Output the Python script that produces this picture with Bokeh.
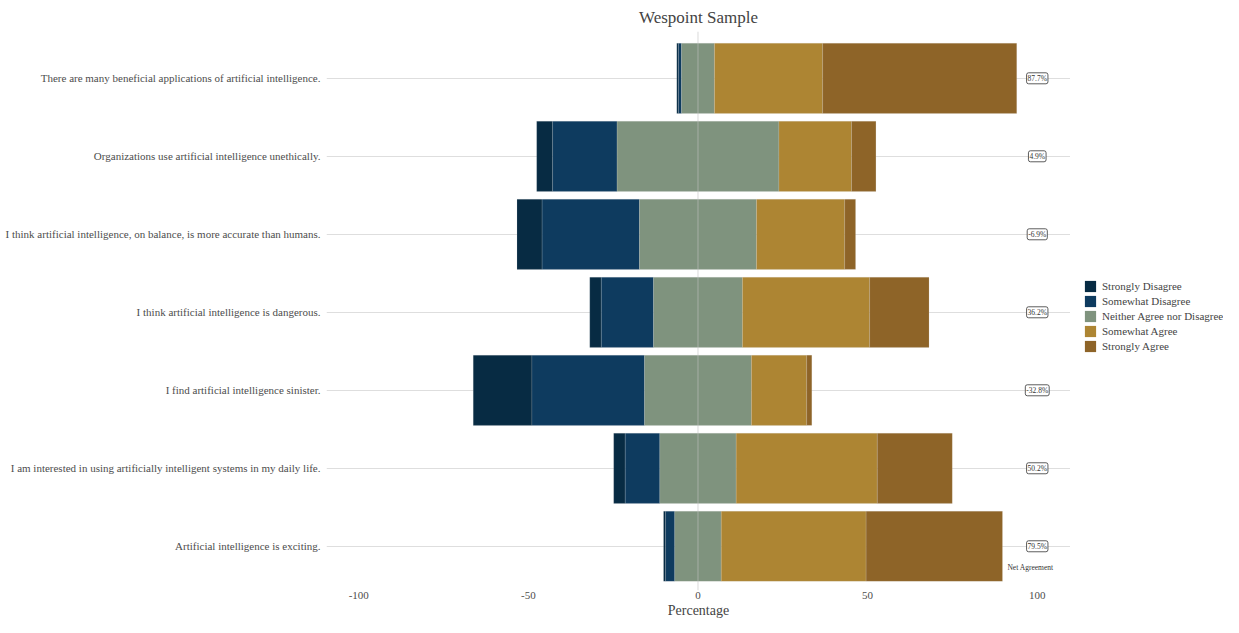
import numpy as np
from bokeh.plotting import figure
from bokeh.layouts import row
from bokeh.models import Range1d, FixedTicker, Span, Label, Legend, LegendItem, ColumnDataSource
from bokeh.embed import file_html
from bokeh.resources import INLINE

# ---- data (top row first) ----
questions = [
    "There are many beneficial applications of artificial intelligence.",
    "Organizations use artificial intelligence unethically.",
    "I think artificial intelligence, on balance, is more accurate than humans.",
    "I think artificial intelligence is dangerous.",
    "I find artificial intelligence sinister.",
    "I am interested in using artificially intelligent systems in my daily life.",
    "Artificial intelligence is exciting.",
]
categories = ["Strongly Disagree", "Somewhat Disagree", "Neither Agree nor Disagree",
              "Somewhat Agree", "Strongly Agree"]
strongly_disagree = [0.5, 4.7, 7.4, 3.4, 17.3, 3.4, 0.6]
somewhat_disagree = [0.9, 19.0, 28.7, 15.4, 33.2, 10.2, 2.7]
neither = [9.7, 47.7, 34.5, 26.2, 31.5, 22.5, 13.7]
somewhat_agree = [31.9, 21.4, 26.0, 37.5, 16.3, 41.6, 42.7]
strongly_agree = [57.2, 7.2, 3.2, 17.5, 1.5, 22.1, 40.2]
net_agreement = ["87.7%", "4.9%", "-6.9%", "36.2%", "-32.8%", "50.2%", "79.5%"]
x_ticks = [-100, -50, 0, 50, 100]

colors = ["#072b43", "#0e3b5f", "#7f937e", "#ad8533", "#8e6428"]
FONT = "Liberation Serif"

series = [strongly_disagree, somewhat_disagree, neither, somewhat_agree, strongly_agree]
n = len(questions)
ypos = list(range(n, 0, -1))

# stacked segment bounds (neutral centred on zero)
left0 = [-(sd + swd + ne / 2) for sd, swd, ne in zip(strongly_disagree, somewhat_disagree, neither)]
bounds = []
cur = list(left0)
for vals in series:
    right = [c + v for c, v in zip(cur, vals)]
    bounds.append((cur, right))
    cur = right

H = 620
p = figure(width=1070, height=H, x_range=Range1d(-109.5, 109.8), y_range=Range1d(0.433, n + 0.6),
           output_backend="svg", toolbar_location=None,
           min_border_left=326, min_border_right=0, min_border_top=23, min_border_bottom=30)
p.outline_line_color = None
p.background_fill_color = "white"

for (l, r), col in zip(bounds, colors):
    src = ColumnDataSource(dict(y=ypos, left=l, right=r))
    p.hbar(y="y", left="left", right="right", height=0.9, source=src,
           fill_color=col, line_color="#d8d8d8", line_alpha=0.2, line_width=0.8)

# vertical zero line on top
p.add_layout(Span(location=0, dimension="height", line_color="#c1c1c1", line_alpha=0.6,
                  line_width=1, level="overlay"))

# net agreement labels
for y, txt in zip(ypos, net_agreement):
    p.add_layout(Label(x=100, y=y, text=txt, text_align="center", text_baseline="middle",
                       text_font=FONT, text_font_size="7.5px", text_color="#333333",
                       background_fill_color="white", border_line_color="#333333",
                       border_line_width=0.8, padding=1, border_radius=2))
p.add_layout(Label(x=98, y=0.73, text="Net Agreement", text_align="center",
                   text_baseline="middle", text_font=FONT, text_font_size="7.5px",
                   text_color="#333333"))

# axes
p.xgrid.grid_line_color = None
p.ygrid.grid_line_color = "#dedede"
p.ygrid.ticker = FixedTicker(ticks=ypos)
p.yaxis.ticker = FixedTicker(ticks=ypos)
p.yaxis.major_label_overrides = {y: q for y, q in zip(ypos, questions)}
p.xaxis.ticker = FixedTicker(ticks=x_ticks)
p.xaxis.major_label_overrides = {t: str(t) for t in x_ticks}
for ax in (p.xaxis, p.yaxis):
    ax.axis_line_color = None
    ax.major_tick_line_color = None
    ax.minor_tick_line_color = None
    ax.major_tick_out = 0
    ax.major_tick_in = 0
    ax.minor_tick_out = 0
    ax.minor_tick_in = 0
    ax.major_label_text_font = FONT
    ax.major_label_text_color = "#4d4d4d"
    ax.major_label_text_font_size = "11px"
p.yaxis.major_label_standoff = 6
p.xaxis.major_label_standoff = 1
p.xaxis.axis_label = "Percentage"
p.xaxis.axis_label_text_font = FONT
p.xaxis.axis_label_text_font_style = "normal"
p.xaxis.axis_label_text_font_size = "14px"
p.xaxis.axis_label_standoff = 1

p.title.text = "Wespoint Sample"
p.title.align = "center"
p.title.text_font = FONT
p.title.text_font_style = "normal"
p.title.text_font_size = "17px"

# legend in a separate narrow figure; its renderers share the data but are hidden
lg = figure(width=153, height=H, output_backend="svg", toolbar_location=None,
            x_range=Range1d(0, 1), y_range=Range1d(0, 1),
            min_border_left=0, min_border_right=0, min_border_top=0, min_border_bottom=0)
lg.axis.visible = False
lg.grid.grid_line_color = None
lg.outline_line_color = None
items = []
for cat, (l, r), col in zip(categories, bounds, colors):
    src = ColumnDataSource(dict(y=ypos, left=l, right=r))
    rr = lg.hbar(y="y", left="left", right="right", height=0.9, source=src,
                 fill_color=col, line_color=None, visible=False)
    items.append(LegendItem(label=cat, renderers=[rr]))
legend = Legend(items=items, location=(13, 237), glyph_height=14, glyph_width=14,
                label_height=14, spacing=1, padding=0, margin=0,
                label_text_font=FONT, label_text_font_size="11px", label_standoff=5,
                border_line_color=None, background_fill_alpha=0,
                inactive_fill_alpha=0)
lg.add_layout(legend)

layout = row(p, lg, spacing=0)
open("out.html", "w").write(file_html(layout, INLINE))
